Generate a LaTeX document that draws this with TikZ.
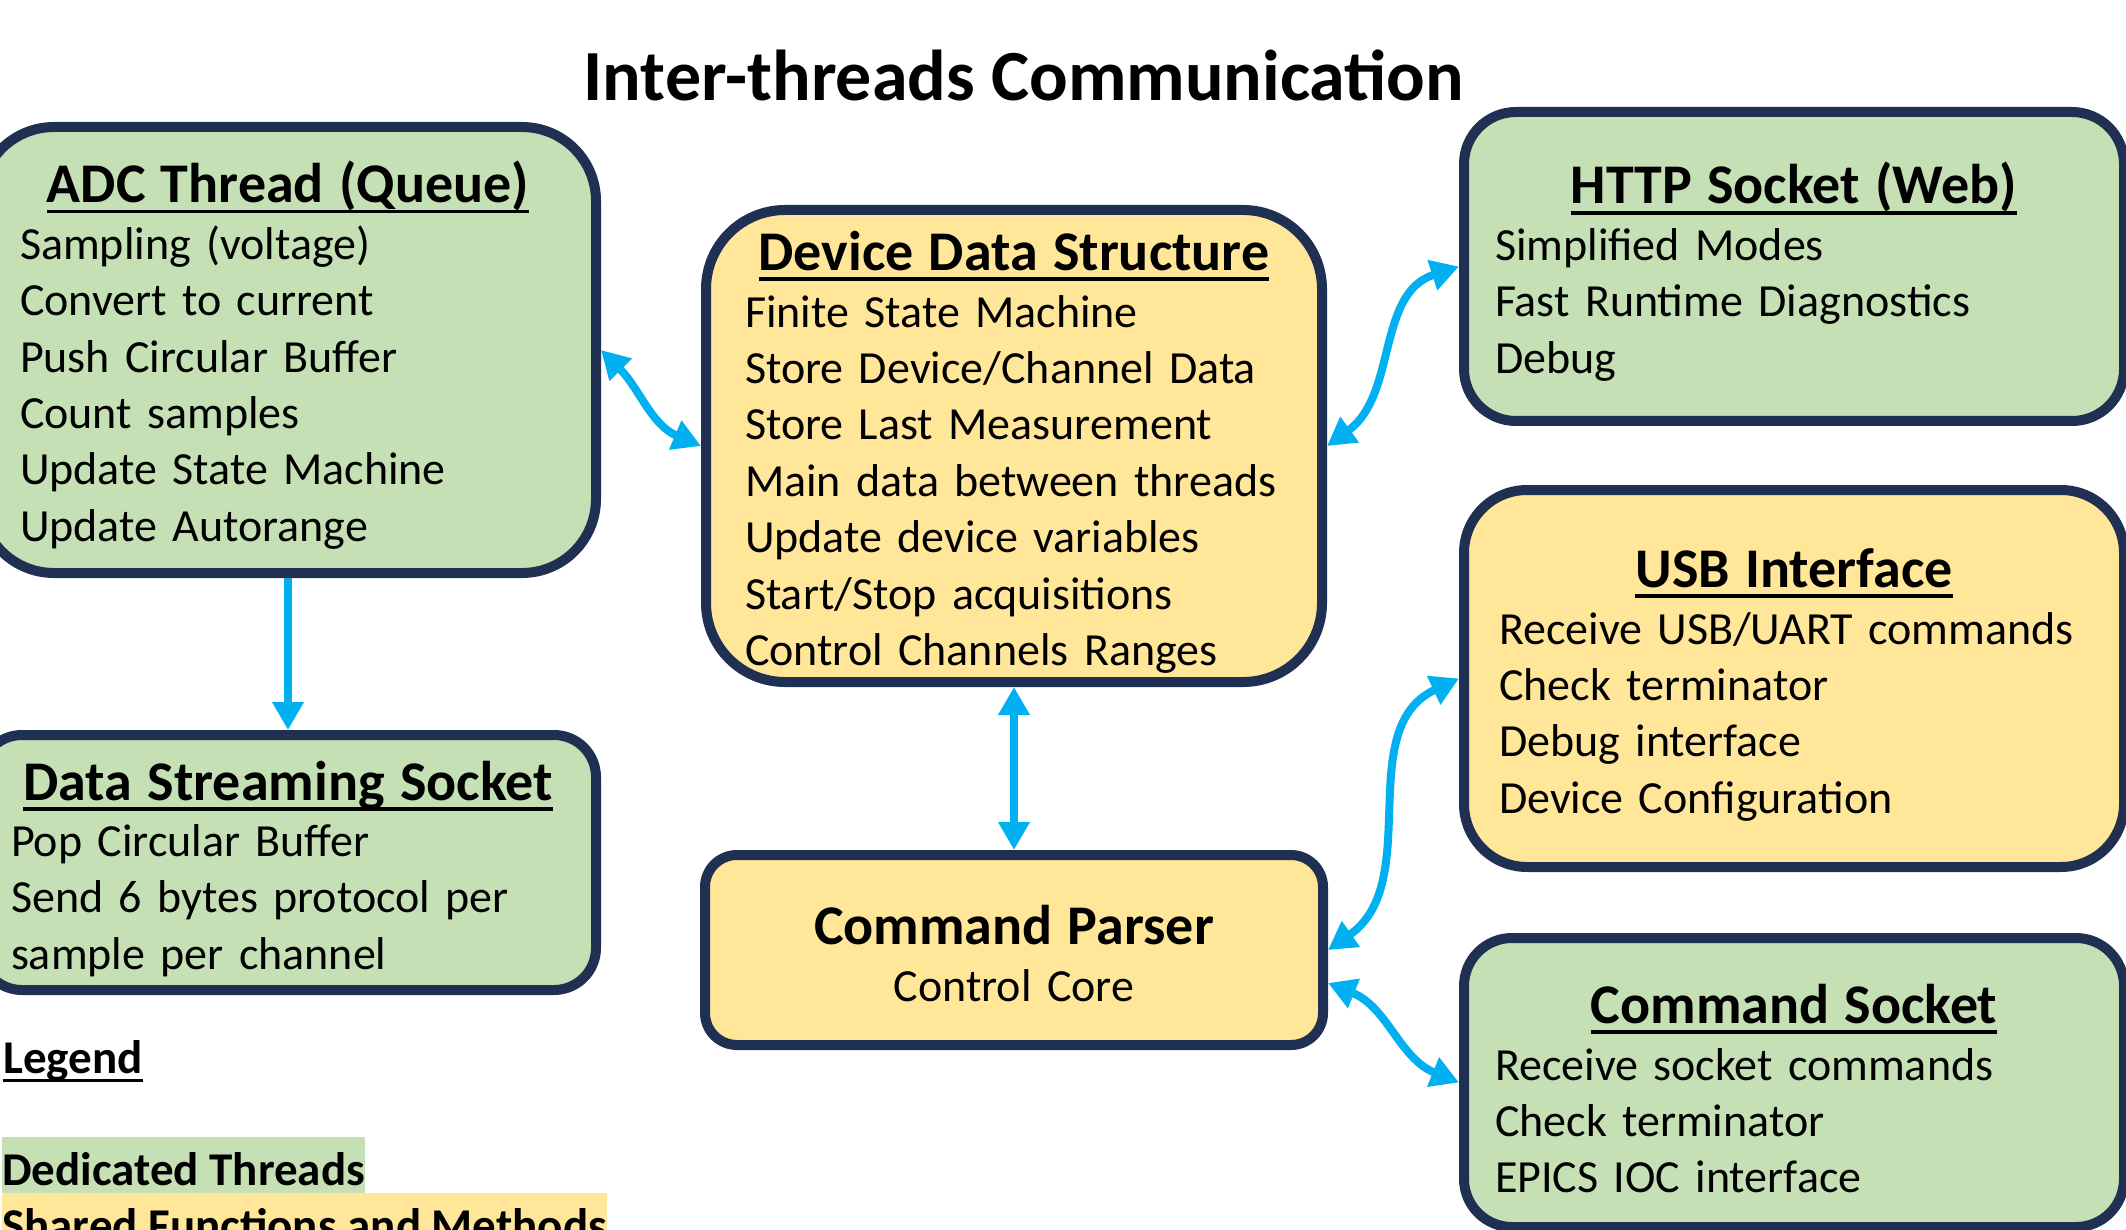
\documentclass[tikz,border=0pt]{standalone}
\usepackage{fontspec}
\setmainfont{Carlito}
\usetikzlibrary{arrows.meta}

\definecolor{threadgreen}{HTML}{C5E0B4}
\definecolor{sharedyellow}{HTML}{FFE699}
\definecolor{framenavy}{HTML}{1F3052}
\definecolor{linkcyan}{HTML}{00B0F0}

\newcommand{\bodyfont}{\fontsize{46}{56.4}\selectfont}
\newcommand{\headfont}{\fontsize{56}{56.4}\selectfont\bfseries}
\newcommand{\keyfont}{\fontsize{47}{56.4}\selectfont\bfseries}
\newcommand{\underlined}[1]{\setbox0\hbox{#1}\rlap{\rule[-0.19em]{\wd0}{0.07em}}\box0}
\newcommand{\boxhead}[1]{\makebox[\linewidth]{\headfont\underlined{#1}}\\}

\begin{document}
\begin{tikzpicture}[x=1pt, y=-1pt, >={Triangle[length=28pt,width=30pt]},
    panel/.style={draw=framenavy, line width=10pt, align=left, font=\bodyfont,
      text height=52pt},
    thread/.style={panel, fill=threadgreen},
    shared/.style={panel, fill=sharedyellow},
    link/.style={draw=linkcyan, line width=8pt},
    key/.style={anchor=base west, inner sep=0pt, text height=48pt, text depth=8pt,
      font=\keyfont}]
  \useasboundingbox (0,0) rectangle (2126,1230);
  \fill[white] (0,0) rectangle (2126,1230);
  \clip (0,0) rectangle (2126,1230);

  \node[anchor=base, font=\fontsize{72}{86}\selectfont\bfseries] (title) at (1024,101)
    {Inter-threads Communication};

  % dedicated threads on the left
  \node[thread, minimum width=616pt, minimum height=446pt, text width=536pt,
    inner xsep=40pt, rounded corners=74pt] (adc) at (288,350)
    {\boxhead{ADC Thread (Queue)}
     Sampling (voltage)\\ Convert to current\\ Push Circular Buffer\\
     Count samples\\ Update State Machine\\ Update Autorange};
  \node[thread, minimum width=616pt, minimum height=255pt, text width=554pt,
    inner xsep=31pt, rounded corners=42pt] (stream) at (288,862.5)
    {\boxhead{Data Streaming Socket}
     Pop Circular Buffer\\ Send 6 bytes protocol per\\ sample per channel};

  % shared core in the middle
  \node[shared, minimum width=616pt, minimum height=472pt, text width=538pt,
    inner xsep=39pt, rounded corners=79pt] (dds) at (1014,446)
    {\boxhead{Device Data Structure}
     Finite State Machine\\ Store Device/Channel Data\\ Store Last Measurement\\
     Main data between threads\\ Update device variables\\
     Start/Stop acquisitions\\ Control Channels Ranges};
  \node[shared, minimum width=618pt, minimum height=190pt, text width=560pt,
    inner xsep=29pt, rounded corners=32pt, align=center, text height=46pt]
    (parser) at (1014,950)
    {{\headfont Command Parser}\\ Control Core};

  % interfaces on the right
  \node[thread, minimum width=660pt, minimum height=309pt, text width=598pt,
    inner xsep=31pt, rounded corners=52pt] (http) at (1794,266.5)
    {\boxhead{HTTP Socket (Web)}
     Simplified Modes\\ Fast Runtime Diagnostics\\ Debug};
  \node[shared, minimum width=660pt, minimum height=377pt, text width=590pt,
    inner xsep=35pt, rounded corners=63pt] (usb) at (1794,678.5)
    {\boxhead{USB Interface}
     Receive USB/UART commands\\ Check terminator\\ Debug interface\\
     Device Configuration};
  \node[thread, minimum width=660pt, minimum height=289pt, text width=598pt,
    inner xsep=31pt, rounded corners=48pt] (cmdsock) at (1794,1082.5)
    {\boxhead{Command Socket}
     Receive socket commands\\ Check terminator\\ EPICS IOC interface};

  % links between threads
  \draw[link, <->] (adc.east) to[out=-45, in=157] (dds.west);
  \draw[link, <->] (dds.east) to[out=36, in=198] (http.west);
  \draw[link, ->] (adc.south) -- (stream.north);
  \draw[link, <->] (dds.south) -- (parser.north);
  \draw[link, <->] (parser.east) to[out=35, in=205] (usb.west);
  \draw[link, <->] ([yshift=-33pt]parser.east) to[out=-22, in=158] (cmdsock.west);

  % legend
  \node[anchor=base west, inner sep=0pt, font=\keyfont]
    (legend) at (3,1073) {\underlined{Legend}};
  \node[key, fill=threadgreen] (keythread) at (2,1185) {Dedicated Threads};
  \node[key, fill=sharedyellow] (keyshared) at (2,1241) {Shared Functions and Methods};
\end{tikzpicture}
\end{document}
